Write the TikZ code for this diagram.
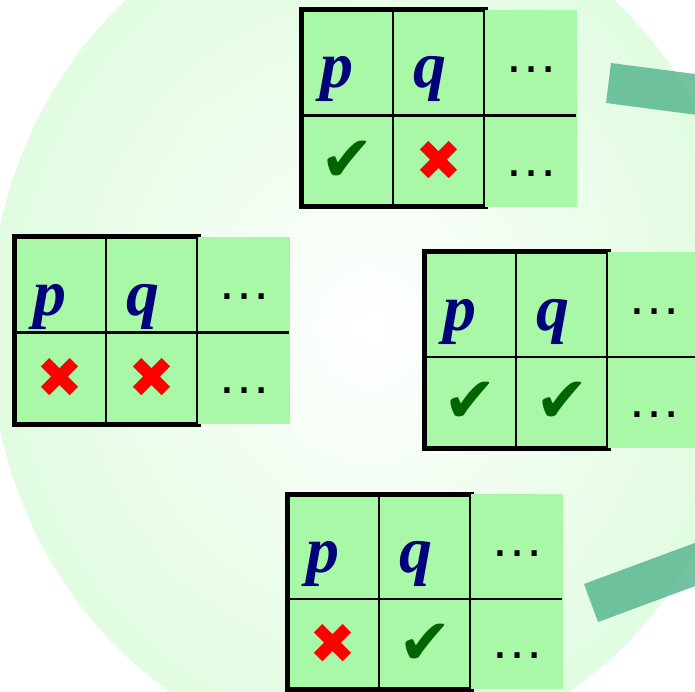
\documentclass[tikz,border=0pt]{standalone}
\usepackage{fontspec}
\usepackage{xcolor}
\usepackage{tikz}
\newfontfamily\symbolfont{DejaVu Sans}
\newfontfamily\dotsfont{Liberation Sans}
\newfontfamily\varfont{Liberation Serif}
\definecolor{cellgreen}{RGB}{168,248,168}
\definecolor{glowgreen}{RGB}{194,248,194}
\definecolor{bargreen}{RGB}{80,180,140}
\definecolor{varblue}{RGB}{0,0,120}
\definecolor{okgreen}{RGB}{0,100,0}
\pgfdeclareradialshading{glow}{\pgfpoint{0bp}{0bp}}{color(0bp)=(white); color(50bp)=(glowgreen)}

\begin{document}
\begin{tikzpicture}[x=1pt,y=-1pt,
  varlabel/.style={text=varblue,inner sep=0pt,anchor=base,
    font=\fontsize{66}{66}\selectfont\varfont\bfseries\itshape},
  verdict/.style={inner sep=0pt},
  moredots/.style={inner sep=0pt,font=\fontsize{54}{54}\selectfont\dotsfont},
  ]

  \def\yes{\fontsize{64}{64}\selectfont\symbolfont\textcolor{okgreen}{✔}}
  \def\no{\fontsize{56}{56}\selectfont\symbolfont\textcolor{red}{✖}}
  \def\truthtable#1#2#3#4#5#6{
    \begin{scope}[shift={#2}]
      \fill[cellgreen] (0,0) rectangle (184,#3+#4);
      \draw[line width=2.2] (92,0) -- (92,#3+#4);
      \draw[line width=5] (0,0) rectangle (184,#3+#4);
      \fill[cellgreen] (184,0) rectangle (276,#3+#4);
      \draw[line width=2.2] (0,#3) -- (275,#3);
      \node[varlabel] (#1p) at (36,78) {p};
      \node[varlabel] (#1q) at (129,78) {q};
      \node[moredots] (#1more) at (230,60) {…};
      \node[verdict] (#1pval) at (46,#3+#4/2) {#5};
      \node[verdict] (#1qval) at (138,#3+#4/2) {#6};
      \node[moredots] (#1moreval) at (230,#3+#4-33) {…};
    \end{scope}
  }

  \useasboundingbox (0,0) rectangle (695,692);
  \clip (0,0) rectangle (695,692);

  \shade[shading=glow] (370,328) ellipse [x radius=381, y radius=427];

  \truthtable{top}{(301,10)}{105.5}{91.5}{\yes}{\no}
  \truthtable{left}{(14,237)}{95.5}{91.5}{\no}{\no}
  \truthtable{right}{(424,252)}{105}{91}{\yes}{\yes}
  \truthtable{low}{(287,494)}{105}{90}{\no}{\yes}

  % the two bars leaving the picture on the right
  \fill[bargreen,fill opacity=0.8] (611,63) -- (730,78.6) -- (725,118.6) -- (606,103) -- cycle;
  \fill[bargreen,fill opacity=0.8] (584,584) -- (715,535.5) -- (729,573.5) -- (598,622) -- cycle;

\end{tikzpicture}
\end{document}
